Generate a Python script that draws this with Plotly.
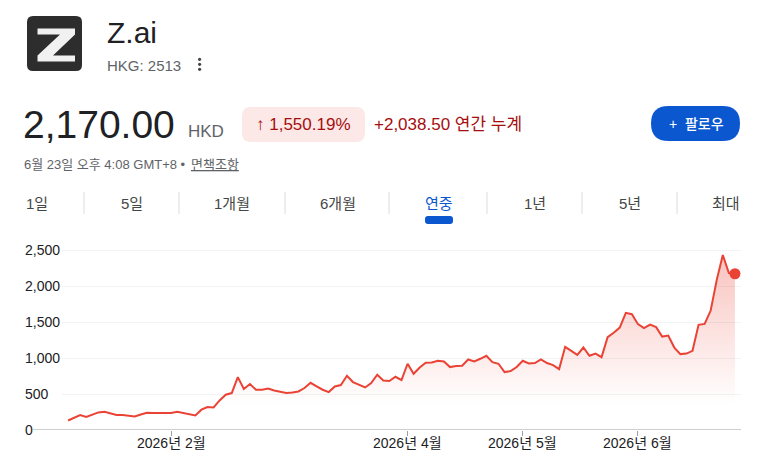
import pandas as pd
import plotly.graph_objects as go

# HKEX trading days from listing to 23 Jun 2026
holidays = ["2026-02-17", "2026-02-18", "2026-02-19", "2026-04-03", "2026-04-06",
            "2026-04-07", "2026-05-01", "2026-05-25"]
days = [d.strftime("%Y-%m-%d") for d in pd.bdate_range("2026-01-08", "2026-06-23")]
days = [d for d in days if d not in holidays]

# closing prices (HKD)
price = [131.5, 166, 208, 180, 216, 244, 254, 226, 208, 208,
         203, 189, 216, 240, 236, 236, 236, 236, 254, 236,
         222, 203, 282, 319, 314, 411, 490, 513, 735, 569,
         638, 559, 559, 577, 549, 531, 513, 522, 535, 583,
         656, 605, 559, 527, 605, 624, 753, 666, 633, 591,
         652, 767, 688, 680, 739, 693, 920, 781, 868, 933,
         938, 961, 952, 874, 888, 892, 979, 952, 989, 1031,
         943, 920, 804, 818, 874, 961, 924, 929, 979, 930,
         902, 846, 1155, 1100, 1044, 1146, 1031, 1062, 1012, 1290,
         1350, 1423, 1627, 1609, 1470, 1415, 1465, 1429, 1298, 1312,
         1145, 1054, 1062, 1100, 1460, 1474, 1659, 2085, 2431, 2180,
         2170]

month_ticks = ["2026-02", "2026-04", "2026-05", "2026-06"]
month_labels = ["2026년 2월", "2026년 4월", "2026년 5월", "2026년 6월"]
y_ticks = [0, 500, 1000, 1500, 2000, 2500]
y_labels = ["0", "500", "1,000", "1,500", "2,000", "2,500"]
tabs = ["1일", "5일", "1개월", "6개월", "연중", "1년", "5년", "최대"]
tab_x = [37, 132, 232, 338, 439, 535, 630, 726]
tab_sep = [84, 179, 285, 389, 487, 582, 677]

tick_vals = [next(d for d in days if d.startswith(m)) for m in month_ticks]

RED = "#ea4335"
FONT = "Arial, Liberation Sans, Noto Sans CJK KR, sans-serif"
# plot area in page pixels; the page body adds an 8px margin
OFF = 8
L, R, T, B = 62, 741, 240, 430
W, H = R - L, B - T


def X(p):
    return (p - L) / W


def Y(p):
    return (B - p) / H


def rrect(x0, y0, x1, y1, r):
    return (f"M {X(x0 + r)},{Y(y0)} L {X(x1 - r)},{Y(y0)} Q {X(x1)},{Y(y0)} {X(x1)},{Y(y0 + r)} "
            f"L {X(x1)},{Y(y1 - r)} Q {X(x1)},{Y(y1)} {X(x1 - r)},{Y(y1)} "
            f"L {X(x0 + r)},{Y(y1)} Q {X(x0)},{Y(y1)} {X(x0)},{Y(y1 - r)} "
            f"L {X(x0)},{Y(y0 + r)} Q {X(x0)},{Y(y0)} {X(x0 + r)},{Y(y0)} Z")


def poly(pts):
    return "M " + " L ".join(f"{X(a)},{Y(b)}" for a, b in pts) + " Z"


fig = go.Figure()
fig.add_trace(go.Scatter(
    x=days, y=price, mode="lines", fill="tozeroy",
    line=dict(color=RED, width=2),
    fillgradient=dict(type="vertical", start=350, stop=2450,
                      colorscale=[[0, "rgba(234,67,53,0)"], [1, "rgba(234,67,53,0.32)"]]),
    hoverinfo="skip", showlegend=False))
fig.add_trace(go.Scatter(
    x=[days[-1]], y=[price[-1]], mode="markers",
    marker=dict(color=RED, size=11), hoverinfo="skip", showlegend=False))

shapes = []
ann = []

def text(x, y, s, size, color, anchor="left", **kw):
    ann.append(dict(x=X(x), y=Y(y), xref="paper", yref="paper", text=s, showarrow=False,
                    xanchor=anchor, yanchor="middle",
                    font=dict(family=FONT, size=size, color=color, **kw)))

# logo
shapes.append(dict(type="path", xref="paper", yref="paper", path=rrect(27, 16, 82, 71, 6),
                   fillcolor="#2d2d2d", line=dict(width=0)))
shapes.append(dict(type="path", xref="paper", yref="paper",
                   path=poly([(37.5, 28.5), (75, 28.5), (75, 34.5), (53, 55.5), (75, 55.5), (75, 61.5),
                              (37.5, 61.5), (37.5, 55.5), (60, 34.5), (37.5, 34.5)]),
                   fillcolor="#f1f1f1", line=dict(width=0)))
text(105, 32, "Z.ai", 30, "#202124")
text(105, 65, "HKG: 2513", 15, "#5f6368")
for yy in [59.3, 64.3, 69.3]:
    shapes.append(dict(type="circle", xref="paper", yref="paper",
                       x0=X(198), x1=X(201.2), y0=Y(yy - 1.6), y1=Y(yy + 1.6),
                       fillcolor="#444746", line=dict(width=0)))

# price row
text(21, 124, "2,170.00", 39, "#202124")
text(186, 131, "HKD", 17, "#5f6368")
shapes.append(dict(type="path", xref="paper", yref="paper", path=rrect(242, 107, 365, 142, 9),
                   fillcolor="#fce8e6", line=dict(width=0)))
text(303.5, 124.5, "↑ 1,550.19%", 17, "#a50e0e", anchor="center")
text(372, 124.5, "+2,038.50 연간 누계", 17, "#a50e0e")
shapes.append(dict(type="path", xref="paper", yref="paper", path=rrect(651, 106, 740, 141, 17.5),
                   fillcolor="#0b57d0", line=dict(width=0)))
text(696, 123.5, "+  팔로우", 14, "#ffffff", anchor="center", weight=500)

text(22, 164, "6월 23일 오후 4:08 GMT+8 •", 13, "#5f6368")
text(189, 164, "면책조항", 13, "#5f6368", lineposition="under")

# range tabs
for lbl, tx in zip(tabs, tab_x):
    text(tx, 203.5, lbl, 15, "#0b57d0" if lbl == "연중" else "#444746", anchor="center")
for sx in tab_sep:
    shapes.append(dict(type="line", xref="paper", yref="paper", x0=X(sx), x1=X(sx),
                       y0=Y(192), y1=Y(214), line=dict(color="#dadce0", width=1)))
shapes.append(dict(type="path", xref="paper", yref="paper",
                   path=rrect(425, 216, 453, 224, 3), fillcolor="#0b57d0", line=dict(width=0)))

# y labels, left aligned
for v, lbl in zip(y_ticks, y_labels):
    ann.append(dict(x=X(23), y=v, xref="paper", yref="y", text=lbl, showarrow=False,
                    xanchor="left", yanchor="middle",
                    font=dict(family=FONT, size=14, color="#202124")))

# month labels under the tick marks
for tv, lbl in zip(tick_vals, month_labels):
    ann.append(dict(x=tv, y=Y(443), xref="x", yref="paper", text=lbl, showarrow=False,
                    xanchor="center", yanchor="middle",
                    font=dict(family=FONT, size=14, color="#202124")))

# baseline
shapes.append(dict(type="line", xref="paper", yref="y", x0=X(33), x1=1, y0=0, y1=0,
                   line=dict(color="#9aa0a6", width=1)))

fig.update_layout(
    width=759 - 2 * OFF, height=463 - 2 * OFF,
    margin=dict(l=L - OFF, r=759 - R - OFF, t=T - OFF, b=463 - B - OFF),
    paper_bgcolor="white", plot_bgcolor="white",
    font=dict(family=FONT, size=14, color="#202124"),
    shapes=shapes, annotations=ann,
    xaxis=dict(type="category", range=[-1, len(days)], showgrid=False, zeroline=False,
               tickvals=tick_vals, showticklabels=False, ticks="outside", ticklen=5,
               tickcolor="#9aa0a6", automargin=False, fixedrange=True),
    yaxis=dict(range=[0, 2500 * H / 180], tickvals=y_ticks, showticklabels=False,
               showgrid=True, gridcolor="#f1f3f4", gridwidth=1, zeroline=False,
               automargin=False, fixedrange=True),
)

fig.write_html("out.html")
